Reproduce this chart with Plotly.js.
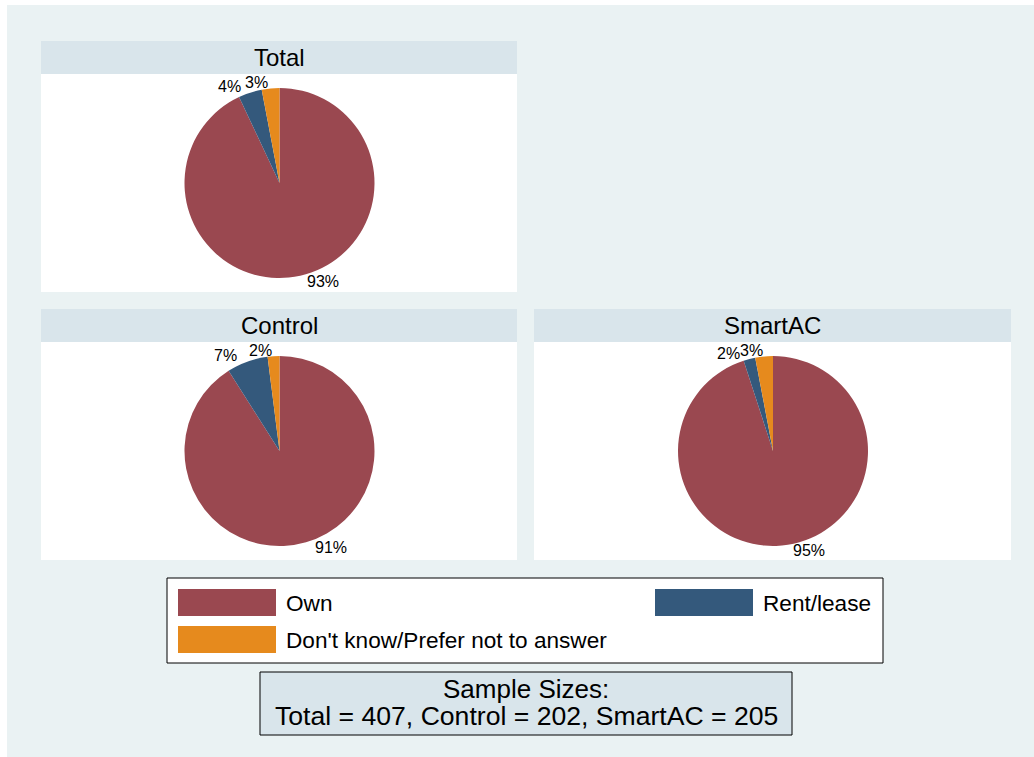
<!DOCTYPE html>
<html>
<head>
<meta charset="utf-8">
<script src="https://cdn.plot.ly/plotly-3.0.1.min.js"></script>
<style>html,body{margin:0;padding:0;background:#fff;}#chart{width:1034px;height:757px;}</style>
</head>
<body>
<div id="chart"></div>
<script>
// ---- data ----
const categories = ['Own', 'Rent/lease', "Don't know/Prefer not to answer"];
const panelNames = ['Total', 'Control', 'SmartAC'];
const totalPct = [93, 4, 3];
const controlPct = [91, 7, 2];
const smartacPct = [95, 2, 3];
const sampleSizes = [407, 202, 205];
const sliceColors = ['#9a4850', '#34597c', '#e68a1d'];

// ---- geometry helpers (pixel -> paper) ----
const W = 1034, H = 757;
const X = px => px / W;
const Y = py => 1 - py / H;
const FONT = 'Liberation Sans, Arial, Helvetica, sans-serif';
const LABEL_SIZE = 16;

const cv = document.createElement('canvas').getContext('2d');
function textWidth(t, size) {
  cv.font = size + 'px "Liberation Sans", Arial, sans-serif';
  return cv.measureText(t).width;
}

// panel boxes: [left, right, headerTop, headerBottom, plotBottom]
const panels = [
  {name: panelNames[0], vals: totalPct,   box: [41, 517, 41, 74, 292]},
  {name: panelNames[1], vals: controlPct, box: [41, 517, 309, 342, 560]},
  {name: panelNames[2], vals: smartacPct, box: [534, 1011, 309, 342, 560]}
];
const R = 95;

const shapes = [];
const annotations = [];

const traces = panels.map(p => {
  const [l, r, ht, hb, pb] = p.box;
  const cx = (l + r) / 2 + 0.5, cy = (hb + pb) / 2;
  // percentage labels placed outside each slice's mid-angle (clockwise from 12 o'clock)
  const sum = p.vals.reduce((a, b) => a + b, 0);
  let start = 0;
  const labs = p.vals.map(v => {
    const frac = v / sum;
    const mid = (start + frac / 2) * 2 * Math.PI;
    start += frac;
    const txt = Math.round(frac * 100) + '%';
    const w = textWidth(txt, LABEL_SIZE);
    const s = Math.sin(mid), c = Math.cos(mid);
    const gap = 25 * Math.abs(s);
    const px = cx + (R + 6) * s, py = cy - (R + 6) * c;
    return {txt, w, x: s < 0 ? px - gap - w / 2 : px + gap + w / 2, y: py};
  });
  // resolve overlaps between neighbouring labels
  labs.sort((a, b) => a.x - b.x);
  for (let i = 0; i < labs.length - 1; i++) {
    const a = labs[i], b = labs[i + 1];
    if (Math.abs(a.y - b.y) < LABEL_SIZE) {
      const ov = (a.w + b.w) / 2 - (b.x - a.x);
      if (ov > 0) { a.x -= ov / 2; b.x += ov / 2; }
    }
  }
  labs.forEach(lb => annotations.push({xref: 'paper', yref: 'paper', x: X(lb.x), y: Y(lb.y),
    text: lb.txt, showarrow: false, xanchor: 'center', yanchor: 'middle',
    font: {family: FONT, size: LABEL_SIZE, color: '#000'}}));

  return {
    type: 'pie',
    labels: categories,
    values: p.vals,
    sort: false,
    direction: 'clockwise',
    rotation: 0,
    marker: {colors: sliceColors, line: {width: 0}},
    textinfo: 'none',
    showlegend: false,
    hoverinfo: 'label+percent',
    domain: {x: [X(cx - R), X(cx + R)], y: [Y(cy + R), Y(cy - R)]}
  };
});

// outer background
shapes.push({type: 'rect', xref: 'paper', yref: 'paper', layer: 'below',
  x0: X(7), x1: X(1034), y0: Y(757), y1: Y(5), fillcolor: '#eaf2f3', line: {width: 0}});

panels.forEach(p => {
  const [l, r, ht, hb, pb] = p.box;
  shapes.push({type: 'rect', xref: 'paper', yref: 'paper', layer: 'below',
    x0: X(l), x1: X(r), y0: Y(hb), y1: Y(ht), fillcolor: '#d9e5eb', line: {width: 0}});
  shapes.push({type: 'rect', xref: 'paper', yref: 'paper', layer: 'below',
    x0: X(l), x1: X(r), y0: Y(pb), y1: Y(hb), fillcolor: '#ffffff', line: {width: 0}});
  annotations.push({xref: 'paper', yref: 'paper', x: X((l + r) / 2), y: Y((ht + hb) / 2),
    text: p.name, showarrow: false, xanchor: 'center', yanchor: 'middle',
    font: {family: FONT, size: 24, color: '#000'}});
});

// legend box
shapes.push({type: 'rect', xref: 'paper', yref: 'paper', layer: 'below',
  x0: X(167), x1: X(883), y0: Y(663), y1: Y(578), fillcolor: '#ffffff', line: {color: '#000', width: 1}});
const legendItems = [
  {i: 0, sx: 178, sy: 589},
  {i: 1, sx: 655, sy: 589},
  {i: 2, sx: 178, sy: 626}
];
legendItems.forEach(it => {
  shapes.push({type: 'rect', xref: 'paper', yref: 'paper', layer: 'below',
    x0: X(it.sx), x1: X(it.sx + 98), y0: Y(it.sy + 27), y1: Y(it.sy),
    fillcolor: sliceColors[it.i], line: {width: 0}});
  annotations.push({xref: 'paper', yref: 'paper', x: X(it.sx + 106), y: Y(it.sy + 14),
    text: categories[it.i], showarrow: false, xanchor: 'left', yanchor: 'middle',
    font: {family: FONT, size: 22.6, color: '#000'}});
});

// sample sizes box
shapes.push({type: 'rect', xref: 'paper', yref: 'paper', layer: 'below',
  x0: X(260), x1: X(792), y0: Y(735), y1: Y(672), fillcolor: '#d9e5eb', line: {color: '#000', width: 1}});
annotations.push({xref: 'paper', yref: 'paper', x: X(526), y: Y(689),
  text: 'Sample Sizes:', showarrow: false, xanchor: 'center', yanchor: 'middle',
  font: {family: FONT, size: 26, color: '#000'}});
annotations.push({xref: 'paper', yref: 'paper', x: X(526), y: Y(716),
  text: 'Total = ' + sampleSizes[0] + ', Control = ' + sampleSizes[1] + ', SmartAC = ' + sampleSizes[2],
  showarrow: false, xanchor: 'center', yanchor: 'middle',
  font: {family: FONT, size: 26.6, color: '#000'}});

const layout = {
  width: W, height: H,
  margin: {l: 0, r: 0, t: 0, b: 0},
  paper_bgcolor: '#ffffff',
  showlegend: false,
  shapes: shapes,
  annotations: annotations
};

Plotly.newPlot('chart', traces, layout, {staticPlot: true, displayModeBar: false});
</script>
</body>
</html>
